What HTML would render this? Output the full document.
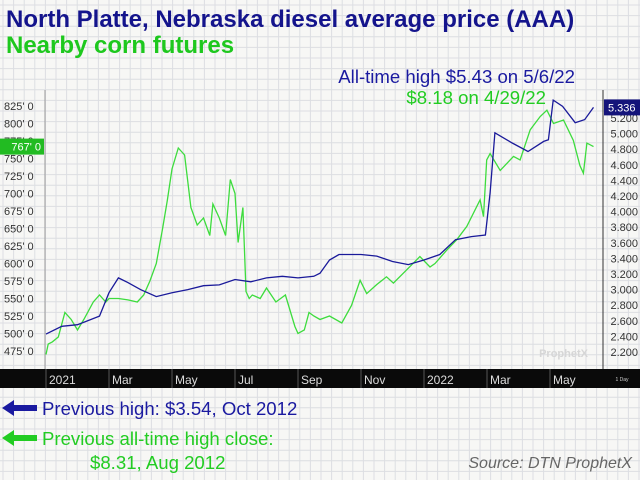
<!DOCTYPE html>
<html><head><meta charset="utf-8"><style>
html,body{margin:0;padding:0;background:#f7f7f5;}
svg{display:block;font-family:"Liberation Sans",sans-serif;}
</style></head><body>
<svg id="c" width="640" height="480" viewBox="0 0 640 480">
<rect x="0" y="0" width="640" height="480" fill="#f7f7f5"/>
<g id="grid"></g>
<text x="6" y="27" font-size="24" font-weight="bold" fill="#14148c">North Platte, Nebraska diesel average price (AAA)</text>
<text x="6" y="53" font-size="24" font-weight="bold" fill="#1ec81e">Nearby corn futures</text>
<text x="575" y="83" font-size="18.6" fill="#1a1aa0" text-anchor="end">All-time high $5.43 on 5/6/22</text>
<text x="546" y="104" font-size="18.6" fill="#22cc22" text-anchor="end">$8.18 on 4/29/22</text>
<line x1="45" y1="90" x2="45" y2="369" stroke="#999"/>
<line x1="603" y1="90" x2="603" y2="369" stroke="#333"/>
<g id="ticks"></g>
<g id="series"></g>
<rect x="0" y="369" width="640" height="19" fill="#0a0a0a"/>
<g id="xt"></g>
<text x="622" y="381" font-size="5" fill="#ccc" text-anchor="middle">1 Day</text>
<text x="588" y="357" font-size="11" font-weight="bold" fill="#d6d6d6" text-anchor="end">ProphetX</text>
<polygon points="2,408 14,400 14,405 37,405 37,411 14,411 14,416" fill="#1a1aa0"/>
<text x="42" y="415" font-size="18.6" fill="#1a1aa0">Previous high: $3.54, Oct 2012</text>
<polygon points="2,438 14,430 14,435 37,435 37,441 14,441 14,446 " fill="#22cc22"/>
<text x="42" y="445" font-size="18.6" fill="#22cc22">Previous all-time high close:</text>
<text x="90" y="469" font-size="18.6" fill="#22cc22">$8.31, Aug 2012</text>
<text x="632" y="468" font-size="16" font-style="italic" fill="#666" text-anchor="end">Source: DTN ProphetX</text>
</svg>
<script>
const cornMonths=[0,0.07,0.2,0.39,0.6,0.8,1.0,1.2,1.5,1.7,1.9,2.0,2.3,2.6,2.9,3.1,3.3,3.5,3.7,3.85,4.0,4.2,4.4,4.6,4.8,5.0,5.2,5.3,5.5,5.7,5.85,6.0,6.1,6.25,6.35,6.45,6.55,6.8,7.0,7.3,7.6,7.9,8.0,8.2,8.35,8.5,8.7,9.0,9.39,9.7,9.97,10.18,10.5,10.81,11.03,11.45,11.87,12.19,12.35,12.72,13.04,13.36,13.78,13.89,13.99,14.1,14.42,14.84,15.05,15.37,15.69,15.9,16.11,16.43,16.74,16.95,17.06,17.17,17.38];
const cornValues=[470,485,488,495,530,520,505,520,545,555,545,550,550,548,545,555,575,600,650,690,735,765,755,680,655,665,640,685,665,640,720,700,630,680,560,550,555,550,565,545,555,510,500,505,530,525,520,525,515,540,576,557,570,581,572,591,610,595,600,619,634,653,691,667,748,757,733,753,748,791,810,819,800,805,776,740,729,772,767];
const dieselMonths=[0,0.5,1.0,1.7,2.0,2.3,2.6,3.0,3.5,4.0,4.5,5.0,5.5,6.0,6.5,7.0,7.5,8.0,8.5,8.7,9.0,9.3,9.7,10.0,10.5,11.0,11.5,12.0,12.5,13.0,13.5,13.95,14.1,14.25,14.8,15.3,15.8,15.95,16.1,16.4,16.8,17.1,17.38];
const dieselValues=[2.43,2.53,2.55,2.66,2.96,3.15,3.09,3.0,2.91,2.96,3.0,3.05,3.06,3.13,3.1,3.15,3.17,3.15,3.17,3.21,3.38,3.45,3.45,3.45,3.43,3.36,3.32,3.38,3.45,3.64,3.68,3.70,4.24,5.01,4.88,4.77,4.90,4.92,5.43,5.35,5.14,5.18,5.336];
const leftTicks=[475,500,525,550,575,600,625,650,675,700,725,750,775,800,825];
const rightTicks=[2.2,2.4,2.6,2.8,3.0,3.2,3.4,3.6,3.8,4.0,4.2,4.4,4.6,4.8,5.0,5.2];
const xLabels=["2021","Mar","May","Jul","Sep","Nov","2022","Mar","May"];
const xLabelMonths=[0,2,4,6,8,10,12,14,16];
const NS="http://www.w3.org/2000/svg";
const X=m=>46+m*31.5;
const YL=v=>106+(825-v)*0.7;
const YR=v=>118+(5.2-v)*78;
function mk(tag,attrs,parent,txt){const e=document.createElementNS(NS,tag);for(const k in attrs)e.setAttribute(k,attrs[k]);if(txt!=null)e.textContent=txt;document.getElementById(parent).appendChild(e);return e;}
for(let x=3;x<640;x+=10.6){const e=mk('line',{x1:x,y1:0,x2:x,y2:480,stroke:'#dcdee2','stroke-width':1},'grid');

}
for(let y=5;y<480;y+=10.6){const e=mk('line',{x1:0,y1:y,x2:640,y2:y,stroke:'#dcdee2','stroke-width':1},'grid');

}
leftTicks.forEach(v=>{const t=mk('text',{x:4,y:YL(v)+4,'font-size':11,fill:'#333'},'ticks',v+"' 0");

});
rightTicks.forEach(v=>{const t=mk('text',{x:638,y:YR(v)+4,'font-size':11,fill:'#333','text-anchor':'end'},'ticks',v.toFixed(3));

});
function line(ms,vs,Y,col,name){const d=ms.map((m,i)=>(i?'L':'M')+X(m).toFixed(1)+','+Y(vs[i]).toFixed(1)).join('');
const p=mk('path',{d:d,fill:'none',stroke:col,'stroke-width':1.3},'series');

}
line(cornMonths,cornValues,YL,'#3ddc3d','corn-line');
line(dieselMonths,dieselValues,YR,'#1a1a9a','diesel-line');
const cl=cornValues[cornValues.length-1];
const r1=mk('rect',{x:0,y:YL(cl)-8,width:44,height:16,fill:'#22bb22'},'ticks');


const t1=mk('text',{x:41,y:YL(cl)+4,'font-size':11,fill:'#fff','text-anchor':'end'},'ticks',cl+"' 0");


const dl=dieselValues[dieselValues.length-1];
const r2=mk('rect',{x:604,y:YR(dl)-8,width:36,height:16,fill:'#14147a'},'ticks');


const t2=mk('text',{x:608,y:YR(dl)+4,'font-size':11,fill:'#fff'},'ticks',dl.toFixed(3));


xLabels.forEach((l,i)=>{const x=X(xLabelMonths[i]);
const tk=mk('line',{x1:x,y1:369,x2:x,y2:388,stroke:'#555'},'xt');


const t=mk('text',{x:x+3,y:384,'font-size':12,fill:'#ddd'},'xt',l);

});
</script>
</body></html>
